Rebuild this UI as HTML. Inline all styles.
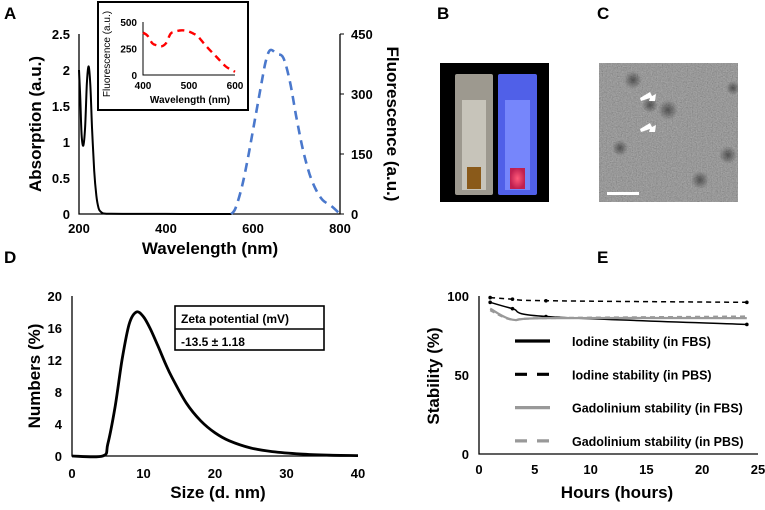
<!DOCTYPE html>
<html><head><meta charset="utf-8"><style>
body{margin:0;background:#fff;width:765px;height:505px;overflow:hidden}
svg{font-family:"Liberation Sans",Arial,sans-serif;font-weight:bold}
</style></head><body>
<svg id="s" width="765" height="505" viewBox="0 0 765 505">
<defs>
<filter id="noise" x="0" y="0" width="1" height="1" filterUnits="objectBoundingBox"><feTurbulence type="fractalNoise" baseFrequency="0.8" numOctaves="2" seed="3"/><feColorMatrix type="matrix" values="0.33 0.33 0.33 0 0  0.33 0.33 0.33 0 0  0.33 0.33 0.33 0 0  0 0 0 0 0.55"/></filter>
<radialGradient id="pink"><stop offset="0" stop-color="#ff5a7a"/><stop offset="1" stop-color="#c02050"/></radialGradient>
<radialGradient id="blob"><stop offset="0" stop-color="#222" stop-opacity="0.6"/><stop offset="1" stop-color="#222" stop-opacity="0"/></radialGradient>
<clipPath id="cc"><rect x="599" y="63" width="139" height="139"/></clipPath>
</defs>
<g font-size="17">
<text x="4" y="19">A</text>
<text x="437" y="19">B</text>
<text x="597" y="19">C</text>
<text x="4" y="263">D</text>
<text x="597" y="263">E</text>
</g>
<g>
<rect x="440" y="63" width="109" height="139" fill="#000"/>
<rect x="455" y="74" width="38" height="121" rx="2" fill="#b8b4a8" opacity="0.85"/>
<rect x="462" y="100" width="24" height="90" fill="#d8d6cc" opacity="0.7"/>
<rect x="467" y="167" width="14" height="22" fill="#8a5a1a"/>
<rect x="498" y="74" width="39" height="121" rx="2" fill="#5060e8"/>
<rect x="505" y="100" width="25" height="90" fill="#8090ff" opacity="0.8"/>
<rect x="510" y="168" width="15" height="21" fill="url(#pink)"/>
</g>
<g clip-path="url(#cc)">
<rect x="599" y="63" width="139" height="139" fill="#6e6e6e"/>
<rect x="599" y="63" width="139" height="139" filter="url(#noise)"/>
<circle cx="668" cy="110" r="10" fill="url(#blob)"/>
<circle cx="633" cy="80" r="9" fill="url(#blob)"/>
<circle cx="733" cy="88" r="7" fill="url(#blob)"/>
<circle cx="620" cy="148" r="8" fill="url(#blob)"/>
<circle cx="728" cy="155" r="9" fill="url(#blob)"/>
<circle cx="650" cy="105" r="8" fill="url(#blob)"/>
<circle cx="700" cy="180" r="9" fill="url(#blob)"/>
<polygon points="640,98 650,92 652,96 656,94 655,101 649,101 650,98 641,101" fill="#fff"/>
<polygon points="640,129 650,123 652,127 656,125 655,132 649,132 650,129 641,132" fill="#fff"/>
<rect x="607" y="192" width="32" height="3" fill="#fff"/>
</g>
<g id="gA"></g><g id="gD"></g><g id="gE"></g>
</svg>
<script>
const absX=[200,203,206,210,214,218,222,226,230,235,240,245,250,255,260,270,300,400,500,550];
const absY=[2.0,1.6,1.1,0.95,1.2,1.8,2.05,1.8,1.2,0.6,0.25,0.08,0.03,0.01,0.005,0.003,0.002,0.001,0,0];
const fluX=[550,560,575,590,605,620,630,640,655,670,685,700,715,730,745,760,780,800];
const fluY=[0,15,70,150,240,330,385,410,400,390,330,240,160,100,60,35,20,0];
const insX=[400,410,420,430,440,450,460,470,480,490,500,510,520,540,560,580,600];
const insY=[400,370,300,280,270,300,390,410,420,420,410,390,360,260,170,80,30];
const aXT=[200,400,600,800], aYT=["0","0.5","1","1.5","2","2.5"], aRT=[0,150,300,450];
const insXT=[400,500,600], insYT=[0,250,500];
const dX=[0,4.3,5,6,7,8,9,10,11,12,13,14,16,18,20,22,25,28,32,36,40];
const dY=[0,0,1.5,6,12,16.5,18,17.4,15.8,13.8,11.7,9.8,6.6,4.4,2.9,1.9,1.0,0.55,0.25,0.1,0.05];
const dXT=[0,10,20,30,40], dYT=[0,4,8,12,16,20];
const eHours=[1,3,6,24];
const iodFBS=[96,92,87,82], iodPBS=[99,98,97,96], gdFBS=[92,85,86,86], gdPBS=[91,85,86,87];
const eXT=[0,5,10,15,20,25], eYT=[0,50,100];
const legendLabels=["Iodine stability (in FBS)","Iodine stability (in PBS)","Gadolinium stability (in FBS)","Gadolinium stability (in PBS)"];

const NS="http://www.w3.org/2000/svg";
function mk(p,t,a,txt){const e=document.createElementNS(NS,t);for(const k in a)e.setAttribute(k,a[k]);if(txt!==undefined)e.textContent=txt;p.appendChild(e);return e;}
function lin(d0,d1,r0,r1){return v=>r0+(v-d0)/(d1-d0)*(r1-r0);}
function pathOf(xs,ys,sx,sy){return xs.map((x,i)=>(i?'L':'M')+sx(x).toFixed(1)+','+sy(ys[i]).toFixed(1)).join('');}
function smooth(xs,ys,sx,sy){
  const p=xs.map((x,i)=>[sx(x),sy(ys[i])]);let d='M'+p[0][0].toFixed(1)+','+p[0][1].toFixed(1);
  for(let i=0;i<p.length-1;i++){const p0=p[Math.max(0,i-1)],p1=p[i],p2=p[i+1],p3=p[Math.min(p.length-1,i+2)];
    const c1=[p1[0]+(p2[0]-p0[0])/6,p1[1]+(p2[1]-p0[1])/6],c2=[p2[0]-(p3[0]-p1[0])/6,p2[1]-(p3[1]-p1[1])/6];
    d+='C'+c1.map(v=>v.toFixed(1)).join(',')+' '+c2.map(v=>v.toFixed(1)).join(',')+' '+p2[0].toFixed(1)+','+p2[1].toFixed(1);}
  return d;}

const gA=document.getElementById('gA');
let sx=lin(200,800,79,340), sy=lin(0,2.5,214,34), sr=lin(0,450,214,34);
let e=mk(gA,'path',{d:'M79,34V214H340V34',fill:'none',stroke:'#000','stroke-width':1.3});

aXT.forEach(v=>{e=mk(gA,'text',{x:sx(v),y:233,'text-anchor':'middle','font-size':13},v);});
aYT.forEach(v=>{e=mk(gA,'text',{x:70,y:sy(+v)+5,'text-anchor':'end','font-size':13},v);});
aRT.forEach(v=>{mk(gA,'line',{x1:340,x2:344,y1:sr(v),y2:sr(v),stroke:'#000'});e=mk(gA,'text',{x:351,y:sr(v)+5,'font-size':13},v);});
e=mk(gA,'path',{d:smooth(absX,absY,sx,sy),fill:'none',stroke:'#000','stroke-width':2});

e=mk(gA,'path',{d:smooth(fluX,fluY,sx,sr),fill:'none',stroke:'#4a78cc','stroke-width':2.6,'stroke-dasharray':'9,6'});

e=mk(gA,'text',{transform:'translate(41,124) rotate(-90)','text-anchor':'middle','font-size':17},'Absorption (a.u.)');

e=mk(gA,'text',{transform:'translate(387,124) rotate(90)','text-anchor':'middle','font-size':17},'Fluorescence (a.u.)');

e=mk(gA,'text',{x:210,y:254,'text-anchor':'middle','font-size':17},'Wavelength (nm)');

e=mk(gA,'rect',{x:98,y:2,width:150,height:108,fill:'#fff',stroke:'#000','stroke-width':2});

let ix=lin(400,600,143,235), iy=lin(0,500,75,22);
mk(gA,'path',{d:'M143,22V75H235',fill:'none',stroke:'#000','stroke-width':1});
insXT.forEach(v=>{e=mk(gA,'text',{x:ix(v),y:89,'text-anchor':'middle','font-size':10},v);});
insYT.forEach(v=>{e=mk(gA,'text',{x:137,y:iy(v)+4,'text-anchor':'end','font-size':10},v);});
e=mk(gA,'path',{d:smooth(insX,insY,ix,iy),fill:'none',stroke:'#f00','stroke-width':2.4,'stroke-dasharray':'7,5'});

e=mk(gA,'text',{transform:'translate(110,54) rotate(-90)','text-anchor':'middle','font-size':10,'font-weight':'normal'},'Fluorescence (a.u.)');

e=mk(gA,'text',{x:190,y:103,'text-anchor':'middle','font-size':10},'Wavelength (nm)');


const gD=document.getElementById('gD');
sx=lin(0,40,72,358); sy=lin(0,20,456,296);
e=mk(gD,'path',{d:'M72,296V456H358',fill:'none',stroke:'#000','stroke-width':1.3});

dXT.forEach(v=>{e=mk(gD,'text',{x:sx(v),y:478,'text-anchor':'middle','font-size':13},v);});
dYT.forEach(v=>{e=mk(gD,'text',{x:62,y:sy(v)+5,'text-anchor':'end','font-size':13},v);});
e=mk(gD,'path',{d:smooth(dX,dY,sx,sy),fill:'none',stroke:'#000','stroke-width':2.8,'stroke-linejoin':'round'});

e=mk(gD,'text',{transform:'translate(40,376) rotate(-90)','text-anchor':'middle','font-size':17},'Numbers (%)');

e=mk(gD,'text',{x:218,y:498,'text-anchor':'middle','font-size':17},'Size (d. nm)');

e=mk(gD,'rect',{x:175,y:306,width:149,height:44,fill:'#fff',stroke:'#000','stroke-width':1.6});

mk(gD,'line',{x1:175,x2:324,y1:329,y2:329,stroke:'#000','stroke-width':1.4});
e=mk(gD,'text',{x:181,y:323,'font-size':12},'Zeta potential (mV)');
e=mk(gD,'text',{x:181,y:346,'font-size':12},'-13.5 ± 1.18');

const gE=document.getElementById('gE');
sx=lin(0,25,479,758); sy=lin(0,100,454,296);
e=mk(gE,'path',{d:'M479,296V454H758',fill:'none',stroke:'#000','stroke-width':1.3});

eXT.forEach(v=>{e=mk(gE,'text',{x:sx(v),y:474,'text-anchor':'middle','font-size':13},v);});
eYT.forEach(v=>{e=mk(gE,'text',{x:469,y:sy(v)+5,'text-anchor':'end','font-size':13},v);});
const series=[[iodFBS,'#000',1.5,'none','iodine-fbs-line'],[iodPBS,'#000',1.5,'5,4','iodine-pbs-line'],[gdFBS,'#999',2.2,'none','gadolinium-fbs-line'],[gdPBS,'#999',2.2,'5,4','gadolinium-pbs-line']];
series.forEach(s=>{
  e=mk(gE,'path',{d:smooth(eHours,s[0],sx,sy),fill:'none',stroke:s[1],'stroke-width':s[2],'stroke-dasharray':s[3]});
  
  if(s[1]==='#000')eHours.forEach((h,i)=>mk(gE,'circle',{cx:sx(h),cy:sy(s[0][i]),r:1.8,fill:'#000'}));
});
const legStyle=[['#000','none'],['#000','12,10'],['#999','none'],['#999','12,10']];
legendLabels.forEach((t,i)=>{
  const y=341+i*33.3;
  e=mk(gE,'line',{x1:515,x2:550,y1:y,y2:y,stroke:legStyle[i][0],'stroke-width':3.2,'stroke-dasharray':legStyle[i][1]});
  
  e=mk(gE,'text',{x:572,y:y+5,'font-size':12.5},t);
  
});
e=mk(gE,'text',{transform:'translate(439,376) rotate(-90)','text-anchor':'middle','font-size':17},'Stability (%)');

e=mk(gE,'text',{x:617,y:498,'text-anchor':'middle','font-size':17},'Hours (hours)');

</script>
</body></html>
